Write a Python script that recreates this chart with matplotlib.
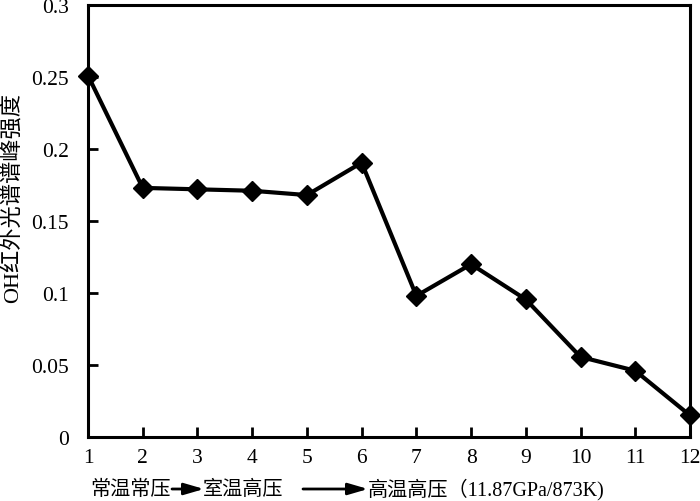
import numpy as np
import matplotlib
matplotlib.use("Agg")
import matplotlib.pyplot as plt

plt.rcParams['font.family'] = ['Liberation Serif', 'Noto Sans CJK SC', 'DejaVu Sans']

# data
stages = [1, 2, 3, 4, 5, 6, 7, 8, 9, 10, 11, 12]
intensity = [0.251, 0.173, 0.172, 0.171, 0.168, 0.1905, 0.098, 0.120, 0.0955, 0.0556, 0.046, 0.015]
y_ticks = [0, 0.05, 0.1, 0.15, 0.2, 0.25, 0.3]
y_ticklabels = ["0", "0.05", "0.1", "0.15", "0.2", "0.25", "0.3"]
ylabel = "OH红外光谱谱峰强度"
cond1 = "常温常压"
cond2 = "室温高压"
cond3 = "高温高压（11.87GPa/873K)"

W, H = 700, 502
fig = plt.figure(figsize=(7, 5.02), dpi=100)
ax = fig.add_axes([88 / W, 64 / H, (690 - 88) / W, (496 - 64) / H])

ax.plot(stages, intensity, color="black", lw=3, marker="D", ms=10,
        markerfacecolor="black", markeredgecolor="black", clip_on=False, zorder=5)

ax.set_xlim(1, 12)
ax.set_ylim(0, 0.3)
ax.set_xticks(stages)
ax.set_yticks(y_ticks)
ax.set_yticklabels(y_ticklabels)
ax.tick_params(direction="in", length=7, width=2, labelsize=15.5, pad=8)
ax.tick_params(axis="y", pad=14)
for s in ax.spines.values():
    s.set_linewidth(2.2)

ax.set_ylabel(ylabel, fontsize=16)
ax.yaxis.set_label_coords((24 - 88) / 602, (438 - 198) / 432)

# stage description under the x axis
yt = (H - 490) / H
fig.text(90 / W, yt, cond1, fontsize=14.5, va="center", ha="left")
fig.text(203 / W, yt, cond2, fontsize=14.5, va="center", ha="left")
fig.text(368 / W, yt, cond3, fontsize=14.5, va="center", ha="left")
arrow = dict(arrowstyle="-|>,head_length=1.2,head_width=0.35", mutation_scale=10,
             color="black", lw=2)
fig.add_artist(matplotlib.patches.FancyArrowPatch((172 / W, yt), (204 / W, yt),
               transform=fig.transFigure, shrinkA=0, shrinkB=0, **arrow))
fig.add_artist(matplotlib.patches.FancyArrowPatch((303 / W, yt), (368 / W, yt),
               transform=fig.transFigure, shrinkA=0, shrinkB=0, **arrow))

fig.savefig("out.png", dpi=100)
